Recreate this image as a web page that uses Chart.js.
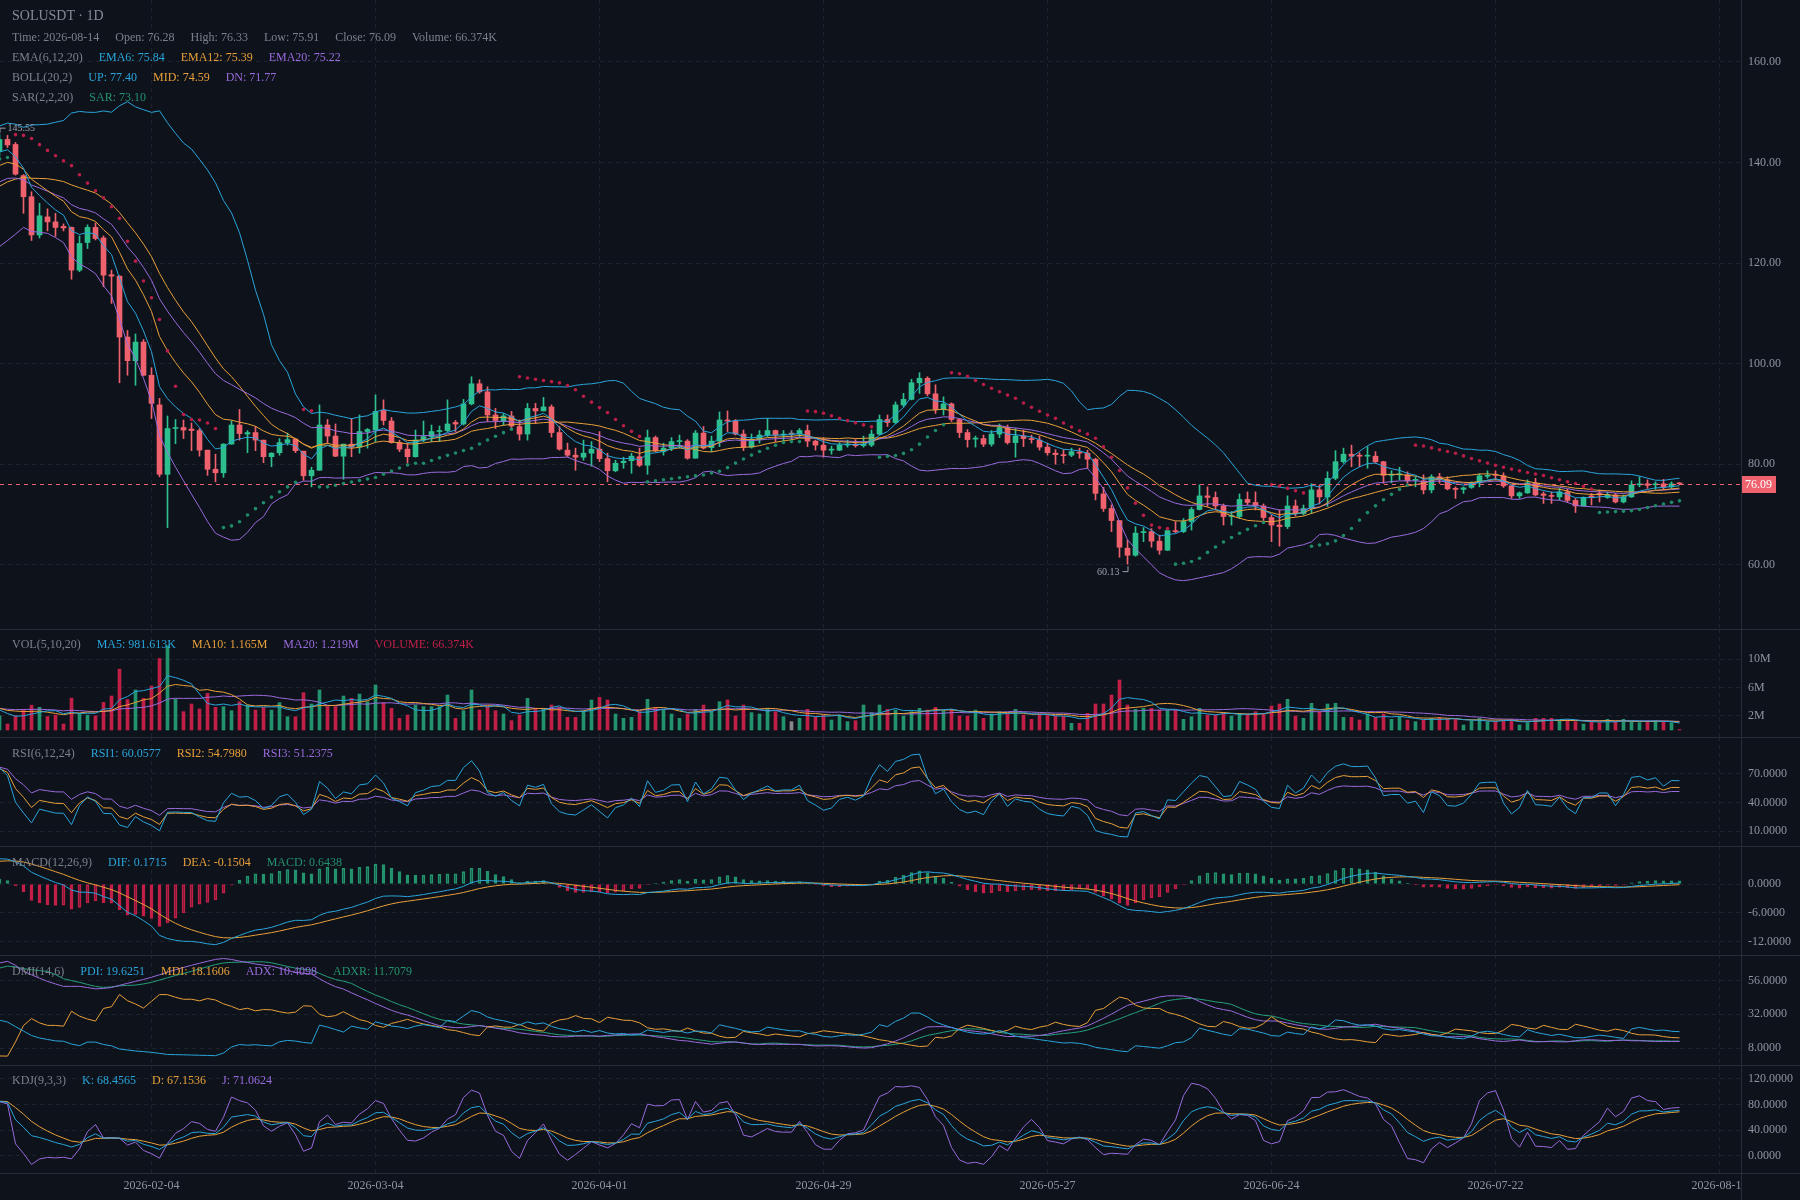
<!DOCTYPE html>
<html><head><meta charset="utf-8">
<script src="https://cdn.jsdelivr.net/npm/chart.js@4.4.1/dist/chart.umd.min.js"></script>
<style>
html,body{margin:0;padding:0;background:#0E121B;}
#root{position:relative;width:1800px;height:1200px;overflow:hidden;background:#0E121B;font-family:'Liberation Serif','Times New Roman',serif;}
.pane{position:absolute;left:0;width:1800px;}
.pane canvas{display:block;}
.sep{position:absolute;left:0;width:1800px;height:1px;background:#262C38;z-index:5;}
.vsep{position:absolute;left:1741px;top:0;width:1px;height:1200px;background:#262C38;z-index:5;}
.legend{position:absolute;left:12px;display:flex;gap:16px;font-size:12px;line-height:14px;color:#7B808C;white-space:nowrap;z-index:10;}
.title{position:absolute;left:12px;top:8px;font-size:14px;line-height:16px;color:#858B97;z-index:10;}
.c{color:#2AA5DB}.o{color:#E8A03A}.p{color:#9A6BDD}.g{color:#23936E}.r{color:#C21F47}
</style></head><body>
<div id="root">
  <div class="title">SOLUSDT · 1D</div>
  <div class="legend" style="top:30px"><span>Time: 2026-08-14</span><span>Open: 76.28</span><span>High: 76.33</span><span>Low: 75.91</span><span>Close: 76.09</span><span>Volume: 66.374K</span></div>
  <div class="legend" style="top:50px"><span>EMA(6,12,20)</span><span class="c">EMA6: 75.84</span><span class="o">EMA12: 75.39</span><span class="p">EMA20: 75.22</span></div>
  <div class="legend" style="top:70px"><span>BOLL(20,2)</span><span class="c">UP: 77.40</span><span class="o">MID: 74.59</span><span class="p">DN: 71.77</span></div>
  <div class="legend" style="top:90px"><span>SAR(2,2,20)</span><span class="g">SAR: 73.10</span></div>
  <div class="legend" style="top:637px"><span>VOL(5,10,20)</span><span class="c">MA5: 981.613K</span><span class="o">MA10: 1.165M</span><span class="p">MA20: 1.219M</span><span class="r">VOLUME: 66.374K</span></div>
  <div class="legend" style="top:746px"><span>RSI(6,12,24)</span><span class="c">RSI1: 60.0577</span><span class="o">RSI2: 54.7980</span><span class="p">RSI3: 51.2375</span></div>
  <div class="legend" style="top:855px"><span>MACD(12,26,9)</span><span class="c">DIF: 0.1715</span><span class="o">DEA: -0.1504</span><span class="g">MACD: 0.6438</span></div>
  <div class="legend" style="top:964px"><span>DMI(14,6)</span><span class="c">PDI: 19.6251</span><span class="o">MDI: 18.1606</span><span class="p">ADX: 10.4098</span><span class="g">ADXR: 11.7079</span></div>
  <div class="legend" style="top:1073px"><span>KDJ(9,3,3)</span><span class="c">K: 68.4565</span><span class="o">D: 67.1536</span><span class="p">J: 71.0624</span></div>
  <div class="vsep"></div>
</div>
<script>
// ---------------- DATA ----------------
// Daily candles, first entry = 2026-01-16 (partly hidden at left edge), last = 2026-08-14
const firstVisibleDate = '2026-01-17';
const open = [
142.2,144.6,143.6,137.4,133.2,125.6,129.2,128.2,127.3,127.1,
118.6,124.1,127.1,125.0,117.7,117.4,105.3,100.6,104.3,97.7,
91.8,78.0,87.1,87.3,87.0,86.7,82.8,79.0,78.3,84.0,
87.8,86.0,86.3,84.8,81.5,82.3,84.3,85.0,82.6,77.7,
78.8,87.8,85.6,81.6,84.0,83.4,86.5,86.8,90.7,88.6,
84.3,83.0,81.5,84.8,85.5,86.5,86.7,88.3,88.0,92.0,
96.0,94.4,89.8,88.5,89.6,87.5,86.0,91.1,90.6,91.4,
86.3,82.8,81.8,81.4,82.2,83.0,81.1,78.7,80.3,80.7,
81.5,79.8,85.3,82.5,83.2,84.5,84.6,81.2,86.2,83.3,
84.6,88.8,88.6,86.0,83.4,84.9,85.8,86.7,85.8,86.0,
86.0,86.7,84.6,83.8,82.8,82.8,83.8,84.0,83.7,83.8,
86.0,88.9,88.3,91.8,92.9,96.2,97.1,94.0,90.9,92.0,
88.9,86.3,85.0,85.1,84.0,86.0,87.3,84.3,85.6,85.1,
84.8,83.4,82.2,81.9,81.8,82.4,82.2,81.0,74.1,71.2,
68.8,63.3,61.9,66.4,66.6,64.7,62.9,66.8,66.6,68.6,
71.0,73.7,73.4,71.7,69.6,69.6,73.0,72.4,71.7,69.4,
67.9,67.6,71.7,70.2,71.2,74.9,73.5,77.2,80.5,82.0,
81.8,81.6,81.6,80.5,77.8,77.9,77.9,76.8,76.7,74.9,
77.5,76.9,75.2,75.0,75.4,76.3,77.6,77.9,77.7,75.7,
73.7,74.3,76.3,74.1,73.8,73.5,74.5,72.8,71.7,73.7,
74.2,73.4,73.9,72.5,73.5,75.9,76.1,75.9,76.1,75.5,
76.28];
const high = [
145.55,145.4,144.0,137.6,134.2,131.9,130.8,129.9,127.8,127.2,
125.4,127.6,128.0,125.4,118.6,117.5,106.6,105.9,104.8,99.2,
93.1,89.6,88.9,88.8,88.2,87.1,82.8,82.0,84.1,88.6,
90.9,86.7,87.5,84.8,82.3,85.1,86.2,85.1,82.6,79.4,
91.8,88.9,88.0,84.0,89.1,89.8,87.1,93.8,92.8,89.3,
84.8,84.2,86.8,88.6,87.8,87.6,92.8,88.7,92.9,97.4,
96.8,95.4,91.1,90.1,90.5,88.8,92.1,92.1,93.3,91.8,
87.5,84.2,83.2,84.8,84.5,86.5,82.2,80.8,81.4,82.2,
83.2,86.8,85.6,84.2,85.3,85.8,84.9,86.7,87.5,85.6,
90.4,90.6,88.9,86.8,86.0,86.7,89.1,86.8,86.7,86.7,
87.1,87.8,84.8,85.3,83.6,84.3,84.8,84.9,85.6,86.8,
89.8,89.8,92.4,94.1,96.9,98.2,97.4,95.8,93.4,92.2,
89.1,86.9,85.6,85.8,86.7,88.0,87.8,87.1,86.8,85.8,
85.6,84.2,82.9,82.9,83.2,83.2,82.8,81.2,75.4,71.9,
68.8,64.9,67.6,67.4,67.2,65.9,67.2,68.6,69.2,71.4,
75.9,75.5,74.5,72.1,70.6,74.1,74.5,74.5,72.1,69.9,
70.9,73.7,72.9,71.9,76.1,75.9,78.5,82.7,83.2,83.8,
82.3,83.5,82.5,80.6,78.7,79.4,78.5,77.5,77.9,77.9,
78.2,77.5,75.5,75.5,76.5,78.1,78.7,78.7,78.3,75.9,
74.5,76.9,77.2,74.5,74.5,75.2,75.0,73.2,73.5,74.2,
74.9,74.5,74.2,73.9,76.7,77.5,76.9,76.5,77.0,76.5,
76.33];
const low = [
141.3,143.0,137.5,129.9,124.5,125.0,126.4,125.3,126.4,116.8,
118.3,122.9,124.6,115.3,112.0,96.2,97.7,95.7,97.6,89.1,
77.5,67.4,84.1,85.1,82.7,81.6,77.8,76.5,77.4,84.0,
84.8,82.3,82.7,80.3,79.5,81.8,83.8,82.3,76.8,75.5,
78.8,84.2,81.5,77.0,81.5,82.2,83.2,84.5,87.8,84.2,
82.5,80.2,81.4,84.5,84.5,84.5,86.5,86.5,87.8,91.8,
94.1,88.5,87.1,87.8,87.1,84.8,84.8,88.1,90.6,85.4,
82.8,81.5,78.8,80.8,79.6,80.5,76.5,78.5,79.2,78.2,
79.5,78.0,82.5,81.8,82.7,83.2,81.0,81.2,83.0,82.5,
83.5,86.5,85.8,82.7,83.2,84.2,85.5,84.5,84.5,84.8,
85.3,83.5,82.8,81.4,82.0,82.7,83.4,83.4,83.4,83.5,
85.8,87.5,88.1,91.4,92.8,94.1,93.6,90.1,89.8,88.5,
85.3,83.4,83.4,83.5,83.6,85.3,84.0,81.4,83.5,84.2,
82.8,81.8,80.0,80.2,81.5,81.2,79.2,72.9,70.6,66.6,
61.5,60.13,61.7,64.6,63.5,62.1,62.8,66.4,66.4,66.9,
70.9,71.6,70.9,67.9,67.9,69.2,71.9,70.9,68.6,64.6,
63.7,67.2,69.7,69.9,70.2,72.1,71.6,76.9,80.2,79.5,
79.5,79.2,80.2,76.2,76.3,76.9,76.2,75.5,74.1,74.3,
76.2,74.9,73.2,74.2,75.2,75.5,77.2,76.9,75.4,73.2,
73.2,74.2,73.7,72.2,72.2,72.9,72.4,70.4,71.7,71.9,
72.5,73.2,72.3,72.3,73.4,75.5,75.2,75.0,75.0,75.2,
75.91];
const close = [
144.6,143.5,137.7,133.2,125.6,129.4,128.2,127.1,127.0,118.6,
123.9,127.1,124.9,117.6,117.4,105.3,100.6,104.3,97.7,92.1,
78.0,87.1,87.3,86.8,86.7,82.8,79.0,78.3,84.0,87.8,
86.1,86.3,84.8,81.5,82.2,84.3,84.9,82.7,77.7,78.8,
87.8,85.6,81.6,84.0,83.4,86.5,86.9,90.5,88.7,84.3,
83.0,81.5,84.8,85.5,86.5,86.7,88.0,88.0,92.0,96.0,
94.4,89.8,88.7,89.6,87.6,86.0,91.1,90.6,91.4,86.3,
83.0,81.8,81.4,82.2,83.0,81.1,78.7,80.2,80.6,81.6,
79.8,85.3,82.7,83.2,84.5,84.6,81.2,86.2,83.2,84.6,
88.8,88.6,86.0,83.4,84.9,85.8,86.7,85.8,86.0,86.0,
86.7,84.6,83.8,82.8,83.0,83.8,84.0,83.7,84.0,86.0,
88.9,88.3,91.8,92.9,96.2,97.1,94.0,90.9,92.0,88.9,
86.3,84.9,85.2,84.0,86.0,87.3,84.3,85.6,85.1,84.9,
83.4,82.3,81.9,81.7,82.5,82.2,81.0,74.2,71.2,68.8,
63.5,61.9,66.3,66.6,64.7,62.9,66.8,66.6,68.6,71.0,
73.7,73.4,71.7,69.6,69.8,73.0,72.4,71.7,69.4,67.9,
67.6,71.7,70.2,71.2,74.9,73.5,77.2,80.5,82.0,81.6,
81.6,81.8,80.5,77.8,78.0,78.0,76.7,76.9,74.9,77.5,
76.9,75.1,75.0,75.3,76.2,77.7,77.8,77.8,75.7,73.7,
74.3,76.3,73.9,73.8,73.6,74.5,72.8,71.7,73.4,73.4,
73.9,73.9,72.5,73.5,75.9,76.1,75.8,76.1,75.5,76.1,
76.09];
// volume in millions
const volume = [
2.0,0.85,2.0,2.9,3.5,3.2,1.9,2.1,0.85,4.5,
2.3,2.1,2.0,3.9,4.8,8.6,4.3,5.65,4.47,6.21,
10.1,11.9,4.33,2.59,3.67,2.97,5.18,3.2,3.3,2.73,
4.0,3.53,2.82,3.2,2.82,3.86,1.88,1.88,5.27,3.67,
5.65,3.3,3.3,4.8,4.47,5.08,4.0,6.36,3.86,3.06,
1.65,2.12,3.53,3.3,3.3,3.3,4.94,1.65,2.73,5.65,
2.82,3.3,2.73,2.26,1.32,2.12,4.47,2.92,2.92,3.53,
3.2,1.79,1.79,2.73,4.24,4.61,4.24,2.26,1.65,1.79,
2.59,4.33,3.2,2.82,2.26,1.65,2.26,2.92,3.53,2.59,
4.0,4.24,2.0,3.53,2.45,2.26,3.06,2.59,1.88,1.18,
1.65,2.92,1.88,2.12,1.41,2.12,1.18,1.32,3.53,2.45,
3.53,2.92,2.82,1.98,2.59,3.06,2.82,3.2,2.73,2.92,
1.98,1.98,2.82,1.65,2.26,2.59,2.35,2.92,2.12,1.51,
2.26,2.12,1.98,1.98,0.94,0.94,2.35,3.67,3.67,4.94,
7.06,3.53,2.92,3.06,3.06,2.82,2.82,2.82,1.51,1.88,
3.06,2.12,2.12,2.45,1.98,2.35,2.26,2.59,2.26,3.39,
3.67,4.33,1.98,1.65,3.77,2.59,3.67,3.77,1.79,1.79,
1.41,2.26,1.79,2.26,1.51,1.88,1.41,1.18,1.41,1.65,
1.79,1.65,1.51,0.71,1.32,1.65,1.18,1.18,1.32,1.51,
0.71,1.04,1.65,1.65,1.65,1.32,1.41,1.18,0.85,1.18,
1.04,1.51,1.18,1.51,1.18,1.04,1.32,1.32,1.18,1.04,
0.066374];
// Earlier candles lying off-screen to the left (estimated so the indicator lines start at the levels shown)
const priorOpen = [115.4,116.2,117.5,115.8,118.3,119.6,118.1,120.4,121.9,120.7,119.3,121.5,123.2,122.0,120.8,122.6,124.1,123.3,121.7,123.8,124.9,123.6,125.8,127.2,126.1,128.9,130.4,129.2,131.8,133.5,132.1,134.9,137.2,136.0,138.6,140.3,139.1,141.7,143.8,142.5];
const priorHigh = [117.3,118.4,118.6,119.1,120.5,120.4,121.3,123.0,122.6,121.6,122.4,124.3,124.1,122.9,123.5,125.2,125.0,124.2,124.7,126.0,125.8,126.9,128.4,128.0,129.8,131.7,131.2,132.9,134.6,134.3,136.0,138.4,138.1,139.8,141.5,141.2,142.9,145.0,144.6,143.4];
const priorLow = [114.3,115.3,114.7,114.9,117.4,117.2,117.2,119.5,119.8,118.4,118.5,120.6,121.0,119.7,119.9,121.8,122.4,120.6,120.9,122.9,122.6,122.7,124.9,125.2,125.3,127.9,128.3,128.3,130.9,131.2,131.3,133.8,135.1,135.1,137.7,138.2,138.3,140.8,141.4,141.0];
const priorClose = [116.2,117.5,115.8,118.3,119.6,118.1,120.4,121.9,120.7,119.3,121.5,123.2,122.0,120.8,122.6,124.1,123.3,121.7,123.8,124.9,123.6,125.8,127.2,126.1,128.9,130.4,129.2,131.8,133.5,132.1,134.9,137.2,136.0,138.6,140.3,139.1,141.7,143.8,142.5,142.0];
const priorVolume = [2.1,1.8,2.4,2.0,2.2,1.7,2.5,2.3,1.9,2.0,2.4,2.6,1.8,2.1,2.3,2.7,1.9,2.2,2.5,2.8,2.2,2.9,3.1,2.4,3.3,3.0,2.6,3.4,3.2,2.7,3.5,3.8,2.9,3.6,3.3,2.8,3.4,3.9,2.6,2.3];

// axis tick labels
const xTickLabels = ['2026-02-04','2026-03-04','2026-04-01','2026-04-29','2026-05-27','2026-06-24','2026-07-22','2026-08-19'];
const priceTicks = [60,80,100,120,140,160];
const volTicks = [2,6,10];
const rsiTicks = [10,40,70];
const macdTicks = [-12,-6,0];
const dmiTicks = [8,32,56];
const kdjTicks = [0,40,80,120];

// ---------------- STYLE ----------------
const FONT = "'Liberation Serif','Times New Roman',serif";
const GRID = '#1C2230', AXIS_TXT = '#8D94A2';
const UP = '#2DC08E', DOWN = '#F0616E', FLAT = '#888888';
const VOL_UP = '#23936E', VOL_DOWN = '#C21F47';
const CYAN = '#2AA5DB', ORANGE = '#E8A03A', PURPLE = '#9A6BDD', TEAL = '#26A07A';
const SAR_UP = '#1F8A66', SAR_DOWN = '#B81E47';
const X_MIN = -0.9375, X_MAX = X_MIN + 1741 / 8;

// ---------------- SERIES ASSEMBLY ----------------
const O = priorOpen.concat(open), H = priorHigh.concat(high), L = priorLow.concat(low), C = priorClose.concat(close), V = priorVolume.concat(volume);
const N = C.length;
const firstIdx = -(priorClose.length + 1);
const X = C.map((_, i) => firstIdx + i);
const iVis = priorClose.length;      // first visible candle (index -1)
const iLine = iVis - 1;
const DAY = 86400000;
const xTickIdx = xTickLabels.map(d => Math.round((Date.parse(d) - Date.parse(firstVisibleDate)) / DAY));

// indicators derived from the candles (as the original charting library does)
function emaOf(src, n){ const out=[]; let p=null; for(const v of src){ if(v==null){out.push(null);continue;} p = p==null? v : (2*v+(n-1)*p)/(n+1); out.push(p);} return out; }
function maOf(src, n){ const out=[]; let s=0; const q=[]; for(const v of src){ if(v==null){out.push(null);continue;} q.push(v); s+=v; if(q.length>n) s-=q.shift(); out.push(q.length===n? s/n : null);} return out; }
const ema6 = emaOf(C,6), ema12 = emaOf(C,12), ema20 = emaOf(C,20);
const bMid = maOf(C,20), bUp = [], bDn = [];
for(let i=0;i<N;i++){ if(bMid[i]==null){bUp.push(null);bDn.push(null);continue;} let s=0; for(let j=i-19;j<=i;j++) s+=(C[j]-bMid[i])**2; const md=Math.sqrt(s/20); bUp.push(bMid[i]+2*md); bDn.push(bMid[i]-2*md); }
// Parabolic SAR (2,2,20)
const sar = [], sarUp = [];
{ let up=true, af=0.02, ep=H[0], s=L[0]; sar.push(s); sarUp.push(true);
  for(let i=1;i<N;i++){ s = s + af*(ep-s);
    if(up){ s = Math.min(s, L[i-1], i>1?L[i-2]:L[i-1]);
      if(L[i] < s){ up=false; s=ep; ep=L[i]; af=0.02; } else if(H[i] > ep){ ep=H[i]; af=Math.min(af+0.02,0.2); } }
    else { s = Math.max(s, H[i-1], i>1?H[i-2]:H[i-1]);
      if(H[i] > s){ up=true; s=ep; ep=H[i]; af=0.02; } else if(L[i] < ep){ ep=L[i]; af=Math.min(af+0.02,0.2); } }
    sar.push(s); sarUp.push(up); } }
// volume MAs
const vMa5 = maOf(V,5), vMa10 = maOf(V,10), vMa20 = maOf(V,20);
// RSI (smoothed)
function rsiOf(n){ const out=[null]; let au=0, ad=0; for(let i=1;i<N;i++){ const df=C[i]-C[i-1]; const u=df>0?df:0, d=df<0?-df:0; if(i===1){au=u;ad=d;} else {au=(u+(n-1)*au)/n; ad=(d+(n-1)*ad)/n;} out.push(au+ad===0?50:au/(au+ad)*100);} return out; }
const rsi1 = rsiOf(6), rsi2 = rsiOf(12), rsi3 = rsiOf(24);
// MACD
const ema26 = emaOf(C,26);
const dif = C.map((_,i)=>ema12[i]-ema26[i]);
const dea = emaOf(dif,9);
const macd = dif.map((v,i)=>(v-dea[i])*2);
// DMI (14,6) with running smoothing
const pdi=[], mdi=[], adx=[], adxr=[];
{ let trS=0,hS=0,lS=0,mtr=0,dmp=0,dmm=0,dxS=0,ax=0; const n=14, m=6;
  for(let i=0;i<N;i++){ const pc=i>0?C[i-1]:C[i], ph=i>0?H[i-1]:H[i], pl=i>0?L[i-1]:L[i];
    const tr=Math.max(H[i]-L[i], Math.abs(H[i]-pc), Math.abs(pc-L[i]));
    const hh=H[i]-ph, ll=pl-L[i];
    const h=(hh>0&&hh>ll)?hh:0, l=(ll>0&&ll>hh)?ll:0;
    trS+=tr; hS+=h; lS+=l;
    let P=null,M=null,A=null,R=null;
    if(i>=n-1){ if(i>n-1){ mtr=mtr-mtr/n+tr; dmp=dmp-dmp/n+h; dmm=dmm-dmm/n+l; } else { mtr=trS; dmp=hS; dmm=lS; }
      P = mtr? dmp*100/mtr : 0; M = mtr? dmm*100/mtr : 0;
      const dx=(P+M)? Math.abs(M-P)/(M+P)*100 : 0; dxS+=dx;
      if(i>=2*n-2){ ax = i>2*n-2 ? (ax*(n-1)+dx)/n : dxS/n; A=ax; if(i>=2*n+m-3) R=(adx[i-(m-1)]+ax)/2; } }
    pdi.push(P); mdi.push(M); adx.push(A); adxr.push(R); } }
// KDJ (9,3,3)
const kk=[], dd=[], jj=[];
{ let k=50, d=50; for(let i=0;i<N;i++){ let hh=-Infinity, ll=Infinity; for(let j=Math.max(0,i-8);j<=i;j++){hh=Math.max(hh,H[j]);ll=Math.min(ll,L[j]);} const rsv = hh===ll?0:(C[i]-ll)/(hh-ll)*100; k=(2*k+rsv)/3; d=(2*d+k)/3; kk.push(k); dd.push(d); jj.push(3*k-2*d);} }

const dir = C.map((c,i)=> c>O[i]?1:(c<O[i]?-1:0));
const candleColor = dir.map(d=> d>0?UP:(d<0?DOWN:FLAT));
const volColor = dir.map(d=> d>0?VOL_UP:(d<0?VOL_DOWN:FLAT));

function pts(arr, from){ const out=[]; for(let i=(from==null?iLine:from);i<N;i++) out.push({x:X[i], y:arr[i]}); return out; }
function line(arr, color, order){ return {type:'line', data:pts(arr), borderColor:color, borderWidth:1, pointRadius:0, tension:0, fill:false, order: order==null?1:order}; }

// ---------------- CHARTS ----------------
const root = document.getElementById('root');
function makePane(top, h){ const div=document.createElement('div'); div.className='pane'; div.style.top=top+'px'; div.style.height=h+'px'; const cv=document.createElement('canvas'); cv.width=1800; cv.height=h; cv.style.width='1800px'; cv.style.height=h+'px'; div.appendChild(cv); root.insertBefore(div, root.firstChild); return cv; }
function sepLine(top){ const d=document.createElement('div'); d.className='sep'; d.style.top=top+'px'; root.appendChild(d); }

function xScale(withLabels){
  return { type:'linear', min:X_MIN, max:X_MAX, offset:false, display:true,
    grid:{color:GRID, drawTicks:false, offset:false, lineWidth:1},
    border:{display:false, dash:[4,4]},
    ticks:{display:false},
    afterBuildTicks: s => { s.ticks = xTickIdx.map(v=>({value:v})); },
    afterFit: s => { s.height = withLabels ? 27 : 0; s.paddingLeft = 0; s.paddingRight = 0; } };
}
function yScale(min, max, ticks, fmt){
  return { type:'linear', position:'right', min, max,
    grid:{color:GRID, drawTicks:false},
    border:{display:false, dash:[4,4]},
    ticks:{color:AXIS_TXT, font:{family:FONT, size:12}, padding:7, callback:(v)=>fmt(v)},
    afterBuildTicks: s => { s.ticks = ticks.map(v=>({value:v})); },
    afterFit: s => { s.width = 59; s.paddingTop = 0; s.paddingBottom = 0; } };
}
function options(y, withLabels){
  return { responsive:false, maintainAspectRatio:false, animation:false, devicePixelRatio:1, events:[],
    layout:{padding:0, autoPadding:false}, plugins:{legend:{display:false}, tooltip:{enabled:false}},
    scales:{ x:xScale(withLabels), y } };
}

// main pane plugin: last price line + high/low marks
const markPlugin = { id:'marks', afterDatasetsDraw(chart){
  const {ctx, chartArea, scales:{x, y}} = chart;
  const last = C[N-1];
  const py = Math.round(y.getPixelForValue(last)) + 0.5;
  const col = candleColor[N-1];
  ctx.save();
  ctx.strokeStyle = col; ctx.lineWidth = 1; ctx.setLineDash([4,4]);
  ctx.beginPath(); ctx.moveTo(chartArea.left, py); ctx.lineTo(chartArea.right, py); ctx.stroke();
  ctx.setLineDash([]);
  ctx.font = '12px ' + FONT; ctx.textBaseline = 'middle'; ctx.textAlign = 'left';
  const txt = last.toFixed(2);
  const w = ctx.measureText(txt).width + 8;
  ctx.fillStyle = col; ctx.fillRect(chartArea.right, py - 8.5, w, 17);
  ctx.fillStyle = '#FFFFFF'; ctx.fillText(txt, chartArea.right + 4, py + 0.5);
  let hi = iVis, lo = iVis;
  for(let i=iVis;i<N;i++){ if(H[i]>H[hi]) hi=i; if(L[i]<L[lo]) lo=i; }
  ctx.strokeStyle = '#9AA0AA'; ctx.fillStyle = '#9AA0AA'; ctx.font = '10px ' + FONT;
  const hx = x.getPixelForValue(X[hi]), hy = y.getPixelForValue(H[hi]);
  ctx.beginPath(); ctx.moveTo(hx+0.5, hy-2); ctx.lineTo(hx+0.5, hy-6.5); ctx.lineTo(hx+6, hy-6.5); ctx.stroke();
  ctx.textAlign='left'; ctx.fillText(H[hi].toFixed(2), hx+8, hy-6);
  const lx = x.getPixelForValue(X[lo]), ly = y.getPixelForValue(L[lo]);
  ctx.beginPath(); ctx.moveTo(lx+0.5, ly+2); ctx.lineTo(lx+0.5, ly+7.5); ctx.lineTo(lx-5, ly+7.5); ctx.stroke();
  ctx.textAlign='right'; ctx.fillText(L[lo].toFixed(2), lx-8, ly+8);
  ctx.restore();
}};

// bottom pane plugin: date labels clipped at the plot's right edge
const xLabelPlugin = { id:'xlabels', afterDraw(chart){
  const {ctx, chartArea, scales:{x}} = chart;
  ctx.save(); ctx.beginPath(); ctx.rect(0, chartArea.bottom, chartArea.right, 27); ctx.clip();
  ctx.fillStyle = AXIS_TXT; ctx.font = '12px ' + FONT; ctx.textAlign='center'; ctx.textBaseline='middle';
  xTickIdx.forEach((v,i)=> ctx.fillText(xTickLabels[i], x.getPixelForValue(v), chartArea.bottom + 12.5));
  ctx.restore();
}};

// MAIN
{
  const cv = makePane(0, 629);
  const wick = [], body = [];
  for(let i=iLine;i<N;i++){ wick.push({x:X[i], y:[L[i],H[i]]}); body.push({x:X[i], y:[O[i],C[i]]}); }
  const cc = candleColor.slice(iLine);
  const sc = sarUp.slice(iLine).map(u=>u?SAR_UP:SAR_DOWN);
  new Chart(cv, { type:'bar', data:{ datasets:[
      {type:'line', data:pts(sar), showLine:false, pointRadius:1.8, pointBorderWidth:0, pointBackgroundColor:sc, order:0},
      line(ema6, CYAN), line(ema12, ORANGE), line(ema20, PURPLE),
      line(bUp, CYAN), line(bMid, ORANGE), line(bDn, PURPLE),
      {type:'bar', data:body, backgroundColor:cc, barThickness:5, minBarLength:1, grouped:false, borderWidth:0, order:9},
      {type:'bar', data:wick, backgroundColor:cc, barThickness:1, minBarLength:1, grouped:false, borderWidth:0, order:10}
    ]},
    options: options(yScale(47.23, 172.33, priceTicks, v=>v.toFixed(2)), false),
    plugins:[markPlugin] });
}
// VOLUME
{
  const cv = makePane(629, 108);
  const vc = volColor.slice(iLine);
  new Chart(cv, { type:'bar', data:{ datasets:[
      line(vMa5, CYAN), line(vMa10, ORANGE), line(vMa20, PURPLE),
      {type:'bar', data:pts(V), backgroundColor:vc, barThickness:3, grouped:false, borderWidth:0, order:9}
    ]}, options: options(yScale(-0.99, 14.27, volTicks, v=>v+'M'), false) });
}
// RSI
{
  const cv = makePane(737, 109);
  new Chart(cv, { type:'line', data:{ datasets:[ line(rsi1, CYAN), line(rsi2, ORANGE), line(rsi3, PURPLE) ]},
    options: options(yScale(-5.55, 108.8, rsiTicks, v=>v.toFixed(4)), false) });
}
// MACD
{
  const cv = makePane(846, 109);
  const mc = [], mf = [];
  for(let i=iLine;i<N;i++){ const c = macd[i]>0?VOL_UP:(macd[i]<0?VOL_DOWN:FLAT); mc.push(c); mf.push(macd[i-1] < macd[i] ? 'rgba(0,0,0,0)' : c); }
  new Chart(cv, { type:'bar', data:{ datasets:[
      line(dif, CYAN), line(dea, ORANGE),
      {type:'bar', data:pts(macd), backgroundColor:mf, borderColor:mc, borderWidth:1, borderSkipped:false, barThickness:3, grouped:false, order:9}
    ]}, options: options(yScale(-14.85, 7.95, macdTicks, v=>v.toFixed(4)), false) });
}
// DMI
{
  const cv = makePane(955, 110);
  new Chart(cv, { type:'line', data:{ datasets:[ line(pdi, CYAN), line(mdi, ORANGE), line(adx, PURPLE), line(adxr, TEAL) ]},
    options: options(yScale(-4, 74, dmiTicks, v=>v.toFixed(4)), false) });
}
// KDJ + date axis
{
  const cv = makePane(1065, 135);
  new Chart(cv, { type:'line', data:{ datasets:[ line(kk, CYAN), line(dd, ORANGE), line(jj, PURPLE) ]},
    options: options(yScale(-26.5, 141.6, kdjTicks, v=>v.toFixed(4)), true), plugins:[xLabelPlugin] });
}
[629, 737, 846, 955, 1065, 1173].forEach(sepLine);
</script>
</body></html>
